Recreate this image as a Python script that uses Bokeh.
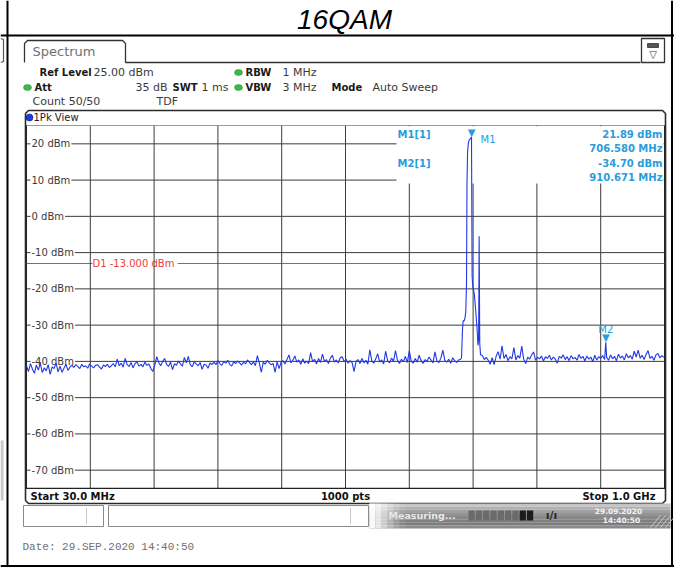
from bokeh.plotting import figure
from bokeh.models import Range1d
from bokeh.core.properties import value
from bokeh.embed import file_html
from bokeh.resources import INLINE

# ---------------- data ----------------
title_text = "16QAM"
start_mhz = 30.0
stop_mhz = 1000.0
n_points = 1000
ref_level = 25.0
bottom_level = -75.0
sweep_step = 3.0

noise_low_start = 30.0
noise_low = [
    -41.2, -42.8, -40.6, -42.1, -43.3, -41.0, -42.4, -40.5, -43.1, -41.8, -42.6, -40.9, -43.6, -41.5, -42.0, -40.4, -42.9, -41.3, -43.0, -41.9, -40.8, -42.5, -41.6,
    -41.0, -41.7, -40.9, -41.4, -42.0, -40.8, -41.5, -41.2, -41.9, -40.7, -41.3, -41.8, -41.1, -40.9, -41.6, -42.1, -41.0, -41.4, -40.8, -41.7, -41.2, -40.6, -41.5,
    -39.4, -41.2, -40.5, -41.6, -39.2, -40.9, -41.4, -40.3, -41.8, -40.6, -40.1, -41.3, -40.8, -41.5, -40.2, -41.1, -40.7, -41.9, -42.8,
    -41.0, -38.7, -40.3, -41.2, -40.0, -39.2, -40.8, -41.4, -40.2, -42.3, -40.6, -41.1, -39.9, -40.7, -41.3, -38.9, -40.4, -38.6, -40.9, -41.5, -40.1, -40.7, -41.2, -40.3, -42.2, -40.8, -41.0, -41.9, -40.4, -40.9,
    -40.2, -40.9, -39.8, -40.6, -41.1, -40.0, -40.5, -39.7, -40.8, -41.3, -40.1, -40.6, -39.9, -40.4, -41.0, -40.2, -40.7, -39.6, -40.3, -40.9, -40.1, -41.2, -38.4, -40.5, -43.0, -40.2, -40.8, -39.7, -40.4, -40.9,
    -40.6, -43.0, -40.1, -42.0, -40.3, -39.8, -40.7, -39.5, -38.2, -40.4, -39.7, -38.5, -40.2, -39.6, -40.8, -39.3, -40.5, -39.9, -40.6, -37.6, -40.1, -39.4, -40.7, -39.2, -40.3, -38.0, -40.0, -39.5, -40.6, -39.1, -38.3, -40.2, -39.6, -40.4, -39.0, -38.7, -40.1, -39.4, -40.5, -39.8,
    -40.3, -42.8, -40.0, -39.5, -40.6, -39.2, -40.4, -39.7, -40.8, -36.8, -39.9, -40.5, -39.3, -37.9, -40.2, -39.6, -40.7, -37.2, -39.8, -40.4, -39.1, -40.0, -37.0, -39.7, -40.6, -39.4, -40.1, -38.6, -40.3, -37.1, -39.9, -40.5, -39.2, -40.2, -38.3, -39.8, -40.6, -39.5, -40.0, -38.8, -39.6, -40.4, -37.4, -39.9, -40.3, -39.1, -36.9, -39.7, -40.2, -39.4, -40.5, -39.0, -39.8, -40.3, -39.6,
]

peak_freqs = [690.0, 691.4, 692.8, 693.9, 695.2, 696.4, 697.8, 699.0, 699.7, 700.6, 701.8, 703.0, 704.3, 705.5,
              707.5, 708.6, 709.8, 711.0, 712.3, 713.5, 715.0, 716.4, 717.4, 718.2, 719.1, 720.3]
peak_levels = [-39.4, -39.0, -31.5, -28.7, -28.9, -28.3, -26.5, -18.4, 9.0, 17.8, 20.2, 21.0, 21.3, 21.6,
               -16.5, -19.5, -20.4, -21.6, -24.5, -27.2, -31.0, -35.6, -34.0, -5.5, -35.0, -38.2]

noise_high_start = 723.0
noise_high = [
    -38.4, -39.5, -38.9, -39.7, -40.8, -39.0, -40.9, -38.6, -37.3, -39.4, -35.7, -39.2, -38.1, -39.8, -38.7, -39.3, -36.2, -39.6, -38.4, -39.1,
    -35.8, -39.5, -40.6, -38.8, -39.4, -38.2, -37.4, -39.7, -38.9, -39.3, -38.5, -39.9, -38.7, -39.2, -38.3, -39.6, -38.8, -39.4, -40.5, -38.6,
    -39.1, -38.2, -39.5, -38.7, -39.8, -38.4, -39.3, -38.9, -39.7, -38.1, -39.2, -38.6, -39.9, -38.5, -39.4, -38.8, -40.1, -38.3, -39.6, -38.7,
    -39.2, -38.4, -39.5, -38.9, -39.7, -38.2, -39.3, -38.6, -39.8, -38.0, -39.1, -38.5, -39.6, -37.9, -39.0, -38.4, -39.4, -37.2, -38.8, -36.9,
    -39.1, -38.3, -39.5, -38.1, -37.0, -39.2, -38.6, -39.7, -38.2, -37.8, -39.0, -38.4, -38.9,
]

marker_names = ["M1", "M2"]
marker_freqs = [706.580, 910.671]
marker_levels = [21.89, -34.70]

display_line_level = -13.0
display_line_label = "D1  -13.000 dBm"

level_ticks = [20, 10, 0, -10, -20, -30, -40, -50, -60, -70]
level_tick_labels = ["20 dBm", "10 dBm", "0 dBm", "-10 dBm", "-20 dBm", "-30 dBm",
                     "-40 dBm", "-50 dBm", "-60 dBm", "-70 dBm"]
freq_grid = [127.0, 224.0, 321.0, 418.0, 515.0, 612.0, 709.0, 806.0, 903.0]

# ---------------- trace table ----------------
f_lo = [noise_low_start + sweep_step * i for i in range(len(noise_low))]
f_hi = [noise_high_start + sweep_step * i for i in range(len(noise_high))]
pts = sorted(zip(f_lo + peak_freqs + f_hi + marker_freqs,
                 noise_low + peak_levels + noise_high + marker_levels))
trace_f = [a for a, b in pts]
trace_l = [b for a, b in pts]

# ---------------- figure / layout ----------------
W, H = 674, 567
PX0, PY0 = 0, 0
FL, FR, FT, FB = 26.0, 664.0, 125.2, 487.8
sx = (stop_mhz - start_mhz) / (FR - FL)
sy = (ref_level - bottom_level) / (FB - FT)

p = figure(width=W, height=H,
           x_range=Range1d(start_mhz - (FL - PX0) * sx, stop_mhz + (PX0 + W - FR) * sx),
           y_range=Range1d(bottom_level - (PY0 + H - FB) * sy, ref_level + (FT - PY0) * sy),
           output_backend="svg", toolbar_location=None, tools="",
           x_axis_location=None, y_axis_location=None, min_border=0,
           outline_line_color=None, background_fill_color="white", border_fill_color="white")
p.grid.visible = False
p.extra_x_ranges = {"px": Range1d(PX0, PX0 + W)}
p.extra_y_ranges = {"py": Range1d(PY0 + H, PY0)}
PG = dict(x_range_name="px", y_range_name="py")

DV = "DejaVu Sans"


def ptext(x, y, t, size=11, bold=False, color="#333333", align="left", font=DV,
          italic=False, baseline="middle"):
    style = "bold" if bold else "normal"
    if italic:
        style = "italic"
    p.text(x=[x], y=[y], text=[t], text_font=value(font), text_font_size=f"{size}px",
           text_font_style=style, text_color=color, text_align=align,
           text_baseline=baseline, **PG)


def pline(xs, ys, color="#222222", width=1.0, alpha=1.0):
    p.line(x=xs, y=ys, line_color=color, line_width=width, line_alpha=alpha, **PG)


# ---- table borders / neighbour cell fragments ----
pline([7, 7], [0, 567], color="black", width=2)
pline([671.5, 671.5], [0, 567], color="black", width=2)
pline([0, 674], [35, 35], color="black", width=2)
pline([0, 674], [565.5, 565.5], color="black", width=2)
pline([0, 3, 3, 0], [38, 39, 61, 62], color="#555555", width=1.2)
p.quad(left=[0], right=[3], top=[440], bottom=[500], fill_color="#c8c8c8", line_color=None, **PG)

# ---- title row ----
ptext(344, 19, title_text, size=28, italic=True, color="black", align="center",
      font="Liberation Sans")

# ---- spectrum tab & header ----
pline([24, 24, 27, 122, 125, 125, 640], [62, 43, 40, 40, 43, 62, 62], color="#333333", width=1.3)
ptext(32, 51, "Spectrum", size=13, color="#707070")
p.quad(left=[641], right=[664], top=[38], bottom=[62], fill_color="white",
       line_color="#333333", line_width=1.3, **PG)
p.quad(left=[647], right=[658], top=[43], bottom=[47], fill_color="#555555",
       line_color="#333333", line_width=0.8, **PG)
ptext(652.5, 54, "▽", size=10, color="#333333", align="center")

green = "#3cb94a"
p.ellipse(x=[238, 27, 238], y=[72, 87, 87], width=8, height=6, fill_color=green,
          line_color="#2a8a34", line_width=0.5, **PG)
hdr = [
    (39, 72, "Ref Level", True, "left"), (93, 72, "25.00 dBm", False, "left"),
    (245, 72, "RBW", True, "left"), (282, 72, "1 MHz", False, "left"),
    (34, 87, "Att", True, "left"), (167, 87, "35 dB", False, "right"), (172, 87, "SWT", True, "left"),
    (201, 87, "1 ms", False, "left"), (245, 87, "VBW", True, "left"), (282, 87, "3 MHz", False, "left"),
    (331, 87, "Mode", True, "left"), (372, 87, "Auto Sweep", False, "left"),
    (32, 101, "Count 50/50", False, "left"), (156, 101, "TDF", False, "left"),
]
for x, y, t, b, al in hdr:
    ptext(x, y, t, size=10 if b else 11, bold=b, color="#1a1a1a" if b else "#3a3a3a", align=al)

# ---- graph window frame ----
p.quad(left=[25], right=[665], top=[110], bottom=[503], fill_color="white", line_color=None, **PG)
pline([25, 665], [125, 125], color="#9a9a9a", width=1)
p.circle(x=[29], y=[117], radius=3.5, fill_color="#1440e6", line_color="#0a2090",
         line_width=0.6, **PG)
ptext(33, 117, "1Pk View", size=10, color="#222222")

# ---- grid ----
p.segment(x0=[start_mhz] * len(level_ticks), x1=[stop_mhz] * len(level_ticks),
          y0=level_ticks, y1=level_ticks, line_color="#3c3c3c", line_width=1)
p.segment(x0=[start_mhz, stop_mhz], x1=[start_mhz, stop_mhz], y0=[ref_level] * 2,
          y1=[bottom_level] * 2, line_color="#222222", line_width=1)

# display line
red = "#f03c3c"
p.segment(x0=[start_mhz], x1=[stop_mhz], y0=[display_line_level], y1=[display_line_level],
          line_color=red, line_width=1)

# level labels
p.text(x=[start_mhz] * len(level_ticks), y=level_ticks, text=level_tick_labels,
       x_offset=4, text_font=value(DV), text_font_size="10px", text_color="#3a3a3a",
       text_baseline="middle", text_align="left", background_fill_color="white", padding=1)
p.text(x=[start_mhz], y=[display_line_level], text=[display_line_label], x_offset=66,
       text_font=value(DV), text_font_size="10px", text_color=red, text_baseline="middle",
       text_align="left", background_fill_color="white", padding=0)

p.segment(x0=freq_grid, x1=freq_grid, y0=[ref_level] * len(freq_grid),
          y1=[bottom_level] * len(freq_grid), line_color="#3c3c3c", line_width=1)

# marker info box
p.quad(left=[396], right=[663], top=[125.8], bottom=[183], fill_color="white", line_color=None, **PG)
mblue = "#2a9cdc"
ptext(397, 134, "M1[1]", size=10, bold=True, color=mblue)
ptext(397, 162.5, "M2[1]", size=10, bold=True, color=mblue)
ptext(662, 134, f"{marker_levels[0]:.2f} dBm", size=10, bold=True, color=mblue, align="right")
ptext(662, 148, f"{marker_freqs[0]:.3f} MHz", size=10, bold=True, color=mblue, align="right")
ptext(662, 162.5, f"{marker_levels[1]:.2f} dBm", size=10, bold=True, color=mblue, align="right")
ptext(662, 176.5, f"{marker_freqs[1]:.3f} MHz", size=10, bold=True, color=mblue, align="right")

# ---- trace ----
p.line(trace_f, trace_l, line_color="#2038e6", line_width=1.1)

# markers
p.text(x=marker_freqs, y=marker_levels, text=["▼", "▼"], text_font=value(DV),
       text_font_size="10px", text_color=mblue, text_align="center", text_baseline="bottom",
       y_offset=1)
p.text(x=[marker_freqs[0]], y=[marker_levels[0]], text=[marker_names[0]], x_offset=9,
       y_offset=3, text_font=value(DV), text_font_size="10px", text_color=mblue,
       text_baseline="middle")
p.text(x=[marker_freqs[1]], y=[marker_levels[1]], text=[marker_names[1]], y_offset=-13,
       text_font=value(DV), text_font_size="10px", text_color=mblue, text_align="center",
       text_baseline="middle")

# frame outline & bottom strip
pline([25, 665], [487.8, 487.8], color="#222222", width=1.3)
pline([25, 25, 28, 662, 665, 665, 662, 28, 25], [500, 113, 110, 110, 113, 500, 503, 503, 500],
      color="#2a2a2a", width=1.6)
ptext(30, 495.5, f"Start {start_mhz:.1f} MHz", size=10, bold=True, color="#111111")
ptext(345, 495.5, f"{n_points} pts", size=10, bold=True, color="#111111", align="center")
ptext(655, 495.5, f"Stop {stop_mhz / 1000:.1f} GHz", size=10, bold=True, color="#111111", align="right")

# ---- status bar ----
p.quad(left=[23, 108], right=[103, 368], top=[505, 505], bottom=[526, 526], fill_color="white",
       line_color="#8a8a8a", line_width=1, **PG)
pline([86, 86], [507, 524], color="#cccccc")
pline([350, 350], [507, 524], color="#cccccc")
vgrad = ["#c4c4c4", "#b0b0b0", "#a0a0a0", "#939393", "#888888", "#808080", "#7c7c7c", "#8a8a8a"]
hh = 25.0 / len(vgrad)
p.quad(left=[369] * len(vgrad), right=[670] * len(vgrad),
       top=[503 + i * hh for i in range(len(vgrad))],
       bottom=[503 + (i + 1) * hh for i in range(len(vgrad))],
       fill_color=vgrad, line_color=None, **PG)
fade_x = [369, 375, 381, 387, 393, 399]
fade_a = [0.95, 0.8, 0.6, 0.4, 0.22, 0.08]
p.quad(left=fade_x, right=[x + 6 for x in fade_x], top=[503] * 6, bottom=[528] * 6,
       fill_color="white", fill_alpha=fade_a, line_color=None, **PG)
ptext(388, 515, "Measuring...", size=9.5, bold=True, color="#e8e8e8")
blk_x = [468 + 7.3 * i for i in range(9)]
p.quad(left=blk_x, right=[x + 6.3 for x in blk_x], top=[510] * 9, bottom=[520] * 9,
       fill_color=["#6a6a6a"] * 7 + ["#1c1c1c"] * 2, line_color=None, **PG)
ptext(551, 515, "ı/ı", size=11, bold=True, color="#2a2a2a", align="center")
ptext(618, 510, "29.09.2020", size=7.5, bold=True, color="#f2f2f2", align="center")
ptext(621, 519.5, "14:40:50", size=7.5, bold=True, color="#f2f2f2", align="center")
for k in range(4):
    pline([650 + 5 * k, 660 + 5 * k], [527, 515], color="#d8d8d8", width=0.8)

# ---- date line ----
ptext(22, 546, "Date: 29.SEP.2020  14:40:50", size=11, color="#707070", font="Liberation Mono")

open("out.html", "w").write(file_html(p, INLINE))
